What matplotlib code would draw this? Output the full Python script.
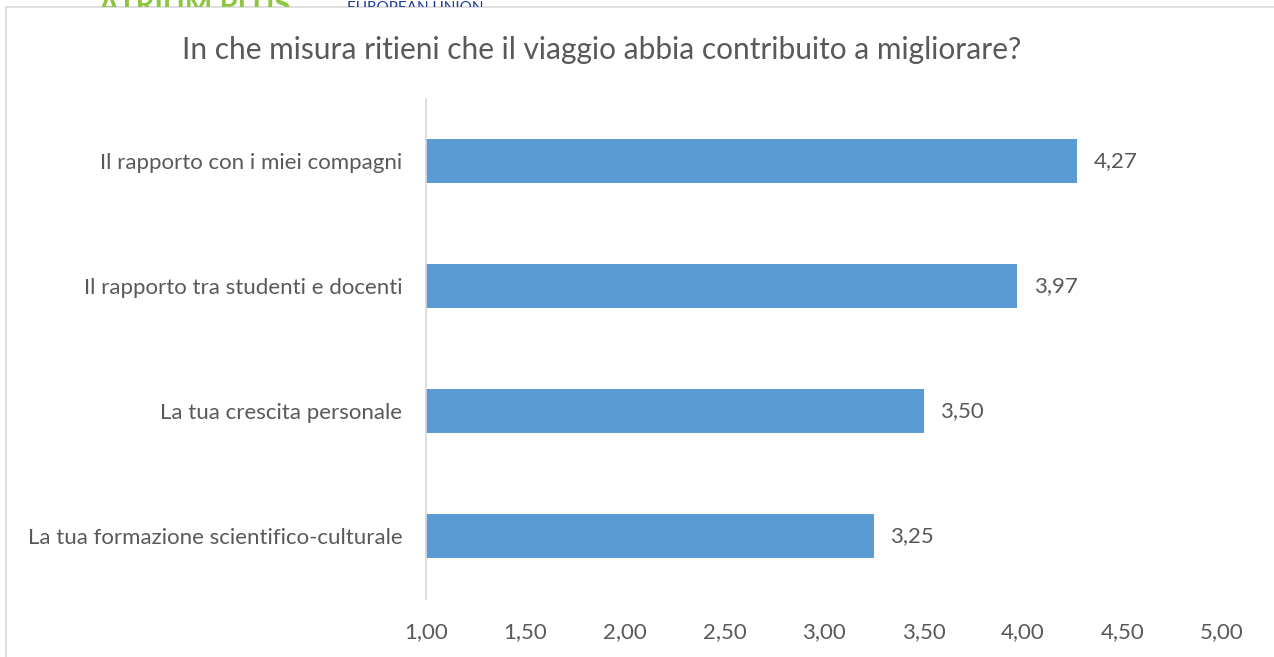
import matplotlib.pyplot as plt
from matplotlib.patches import Rectangle, Wedge
from matplotlib.transforms import Bbox, TransformedBbox

categories = ["Il rapporto con i miei compagni",
              "Il rapporto tra studenti e docenti",
              "La tua crescita personale",
              "La tua formazione scientifico-culturale"]
values = [4.27, 3.97, 3.50, 3.25]
xticks = [1.0, 1.5, 2.0, 2.5, 3.0, 3.5, 4.0, 4.5, 5.0]
title = "In che misura ritieni che il viaggio abbia contribuito a migliorare?"

plt.rcParams['font.family'] = ['Lato', 'DejaVu Sans']
txt = '#595959'
fs = 16

fig = plt.figure(figsize=(12.74, 6.57), dpi=100)
W, H = 1274, 657
clip = TransformedBbox(Bbox([[0, (H - 6.5) / H], [1, 1]]), fig.transFigure)

# cropped header above the chart box
t1 = fig.text(98 / W, 1 - 14 / H, "ATRIUM PLUS", color='#8DC63F', fontsize=21,
              fontweight='bold', ha='left', va='baseline')
t2 = fig.text(347 / W, 1 - 12 / H, "EUROPEAN UNION", color='#1F3F99', fontsize=11,
              ha='left', va='baseline')
for t in (t1, t2):
    t.set_clip_box(clip)
    t.set_clip_on(True)
wd = Wedge((48 / W, 1 + 20 / H), 32 / W, 200, 320, width=14 / W, transform=fig.transFigure,
           facecolor='#A6CE5A', edgecolor='none')
wd.set_clip_box(clip)
fig.patches.append(wd)

# chart border (top and left visible)
fig.patches.append(Rectangle((6 / W, -0.1), 1.2, (H - 6.5) / H + 0.1, transform=fig.transFigure,
                             fill=False, edgecolor='#D9D9D9', linewidth=1.2))

ax = fig.add_axes([426 / W, (H - 598.5) / H, (1222 - 426) / W, (598.5 - 98.5) / H])
ax.set_facecolor('none')
pos = list(range(len(categories)))
ax.barh(pos, values, height=0.352, left=0, color='#5B9BD5')
ax.set_xlim(1.0, 5.0)
ax.set_ylim(len(categories) - 0.5, -0.5)
ax.set_xticks(xticks)
ax.set_xticklabels([f"{v:.2f}".replace('.', ',') for v in xticks], fontsize=fs, color=txt)
ax.set_yticks(pos)
ax.set_yticklabels(categories, fontsize=fs, color=txt)
ax.tick_params(axis='x', length=0, pad=17)
ax.tick_params(axis='y', length=0, pad=17)
for s in ['top', 'right', 'bottom']:
    ax.spines[s].set_visible(False)
ax.spines['left'].set_color('#D9D9D9')
ax.spines['left'].set_linewidth(1.2)
for p, v in zip(pos, values):
    ax.annotate(f"{v:.2f}".replace('.', ','), (v, p), xytext=(12, 0), textcoords='offset points',
                va='center', ha='left', fontsize=fs, color=txt)

fig.text(602 / W, 1 - 50 / H, title, ha='center', va='center', fontsize=21.5, color=txt)

fig.savefig('out.png', dpi=100)
